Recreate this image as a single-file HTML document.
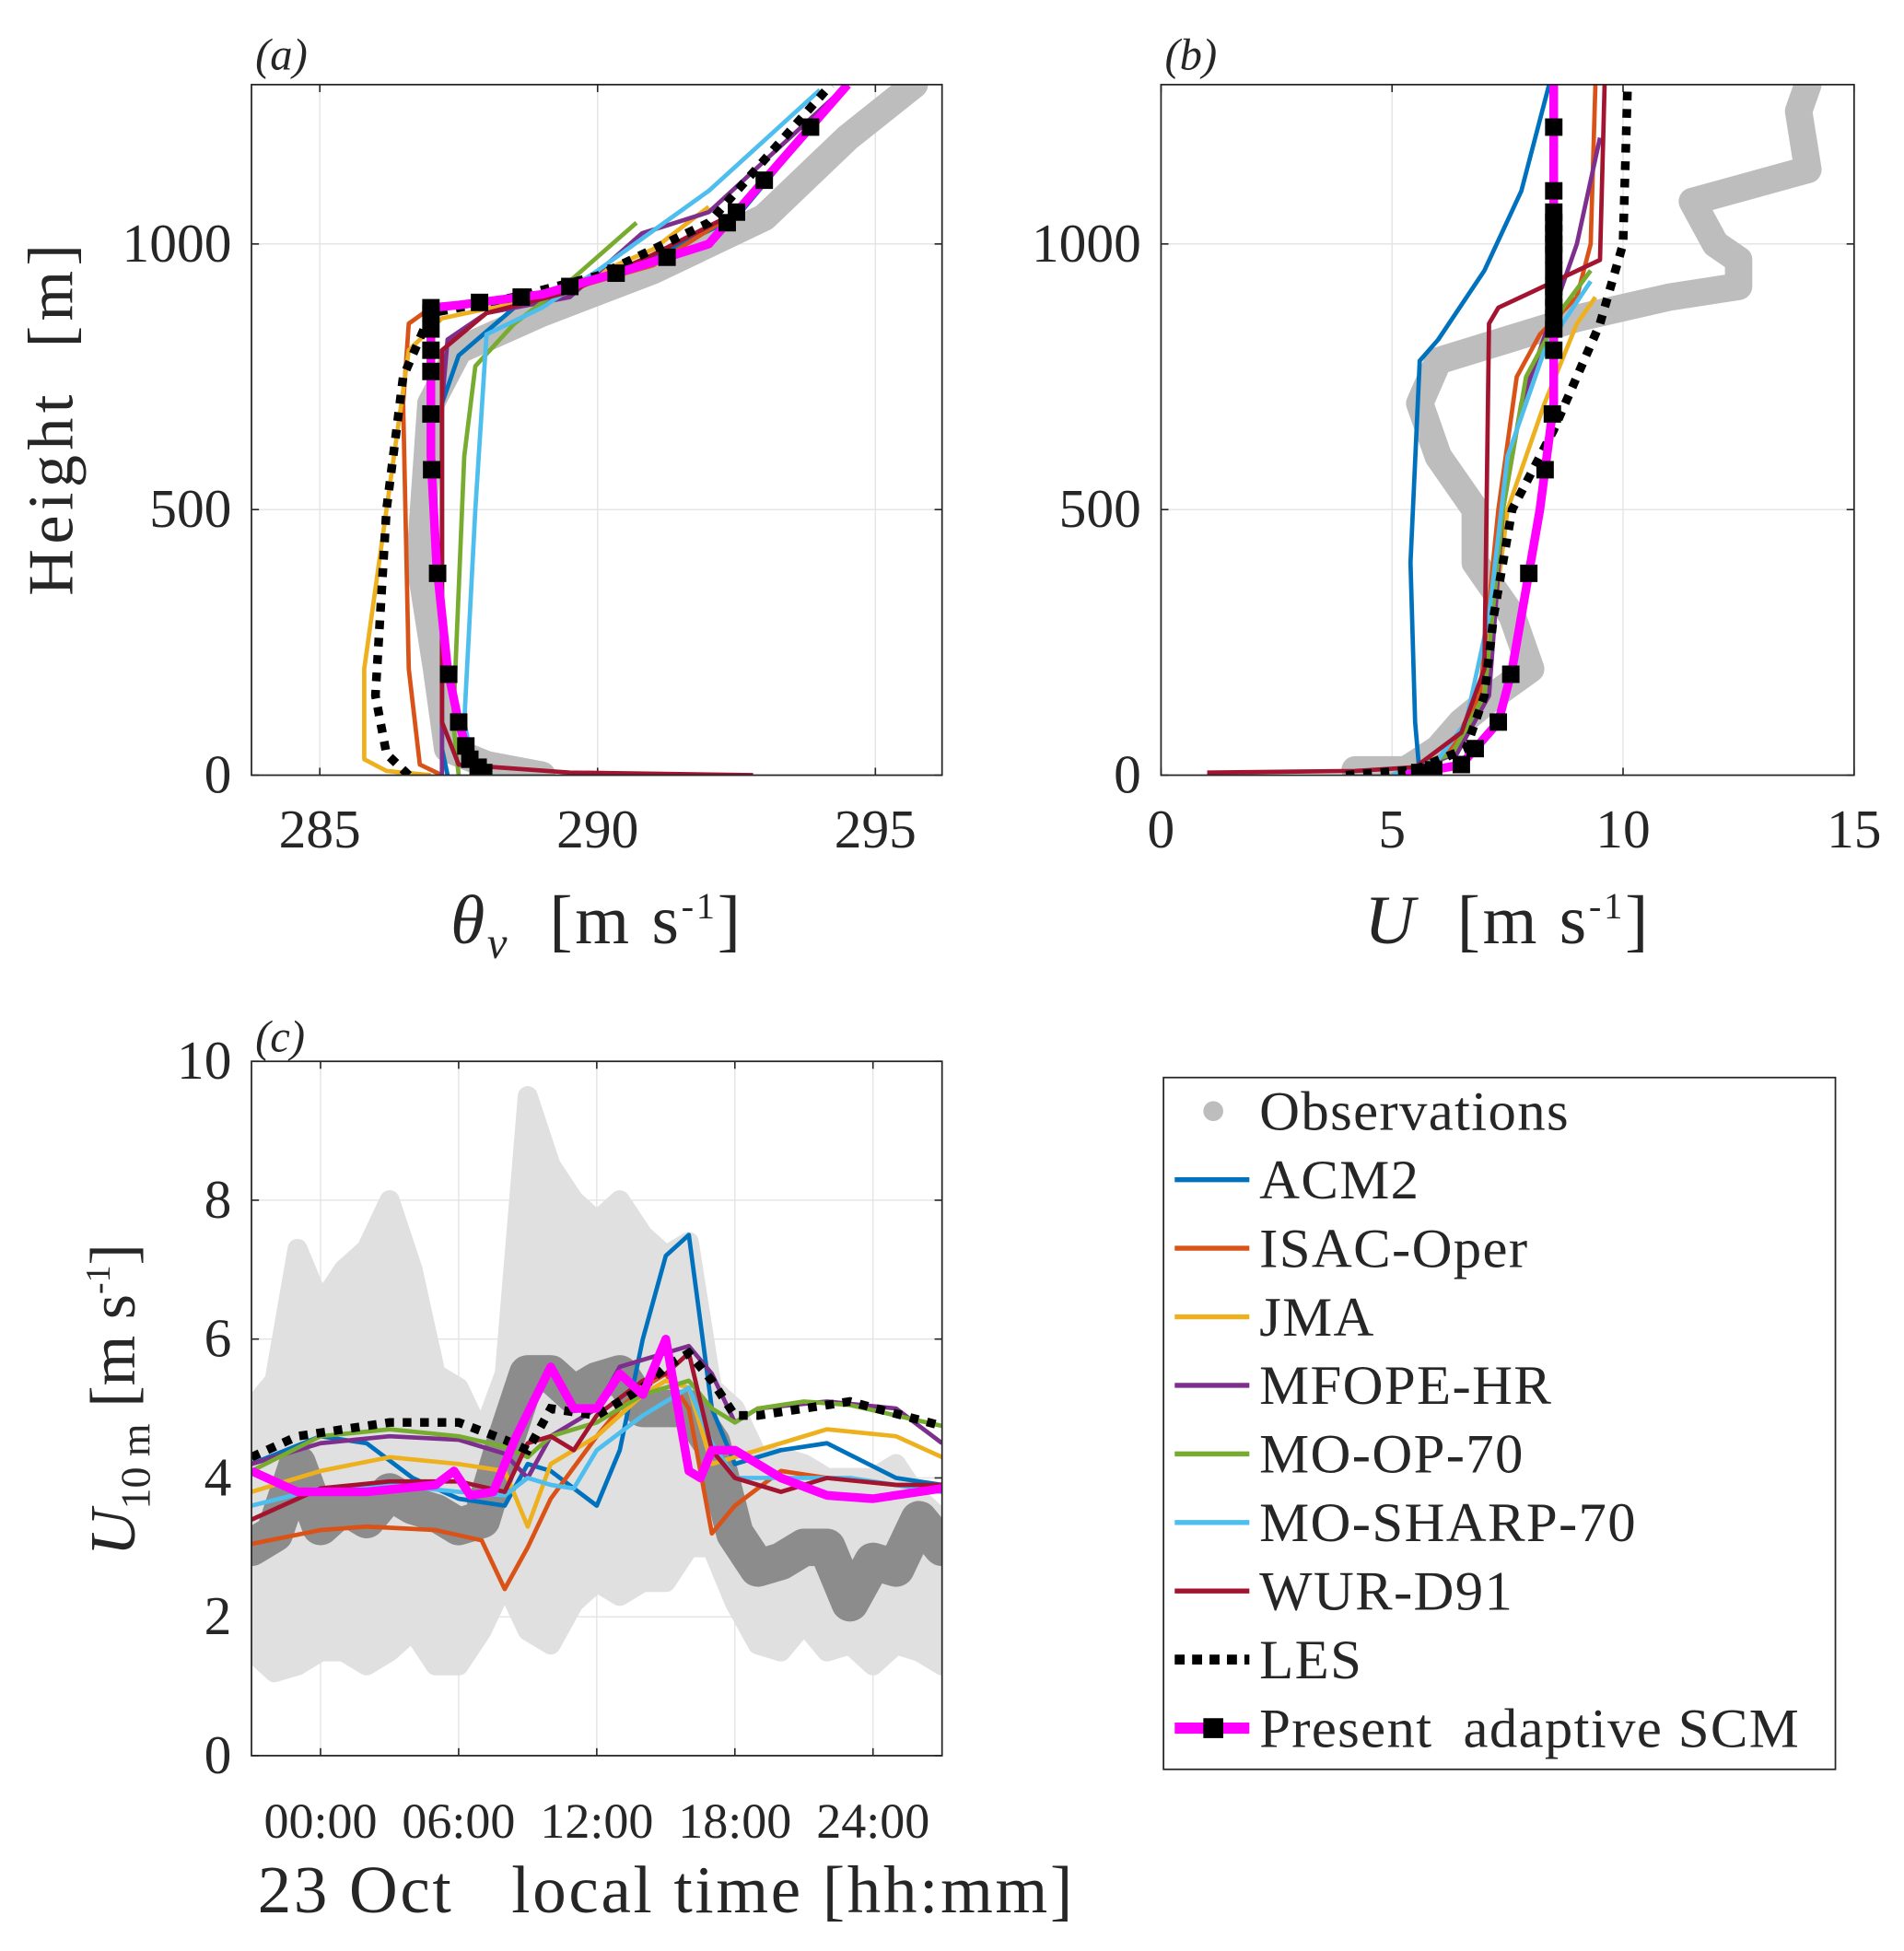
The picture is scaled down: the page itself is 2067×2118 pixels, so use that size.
<!DOCTYPE html>
<html><head><meta charset="utf-8"><style>
html,body{margin:0;padding:0;background:#fff;}
svg{display:block;}
text{font-family:"Liberation Serif","DejaVu Serif",serif;fill:#262626;white-space:pre;}
</style></head><body>
<svg id="fig" width="2067" height="2118" viewBox="0 0 1530 1568" xmlns="http://www.w3.org/2000/svg" xml:space="preserve"></svg>
<script>
// ---------- DATA ----------
const modelNames = ["ACM2","ISAC-Oper","JMA","MFOPE-HR","MO-OP-70","MO-SHARP-70","WUR-D91"];
const modelColors = ["#0072BD","#D95319","#EDB120","#7E2F8E","#77AC30","#4DBEEE","#A2142F"];
// Panel (a): theta_v profiles [theta, z]
const aObs = [[289,0],[288,20],[287.3,50],[287.1,200],[286.8,400],[287,700],[287.5,800],[289,870],[291,950],[293,1050],[294.5,1200],[295.7,1300]];
const aModels = [
 [[287.3,0],[287.2,50],[287.2,700],[287.5,790],[288.5,880],[290.5,950],[292.5,1050],[294.5,1300]],
 [[287.2,0],[286.8,20],[286.6,200],[286.5,700],[286.6,850],[287,880],[289,900],[291,960],[292.5,1060],[294.5,1300]],
 [[287,0],[286.2,8],[285.8,30],[285.8,200],[286.2,500],[286.6,800],[287.2,860],[289,900],[291,990],[292,1070]],
 [[287.2,0],[287.2,700],[287.3,820],[288,870],[289.5,900],[290.8,1020],[292,1060],[294.5,1300]],
 [[287.5,0],[287.4,100],[287.6,600],[287.8,770],[288.5,850],[289.5,930],[290.7,1040]],
 [[287.8,0],[287.6,100],[287.8,500],[288,830],[289,880],[290,950],[292,1100],[294,1290]],
 [[292.8,0],[289.5,5],[287.5,20],[287.2,100],[287.2,800],[288,870],[289.5,910],[291,980],[292.5,1060],[294.5,1300]]
];
const aLES = [[286.6,0],[286.2,40],[286,150],[286.2,500],[286.5,750],[287,870],[288.5,900],[290,940],[292,1040],[294.2,1300]];
const aSCM = [[288,0],[287.7,30],[287.5,100],[287.3,200],[287.1,400],[287,600],[287,880],[287.5,885],[289,905],[290.5,950],[292,1000],[293.5,1180],[294.5,1300]];
const aMarkZ = [5,15,30,55,100,190,380,575,680,760,800,840,870,880,890,900,920,945,975,1040,1060,1120,1220];
// Panel (b): U profiles [U, z]
const bObs = [[4.2,10],[5.3,10],[6,50],[6.5,100],[7.2,150],[8,200],[7.6,300],[6.8,400],[6.8,500],[6,600],[5.6,700],[6,780],[7.5,820],[9,860],[11,900],[12.5,920],[12.5,970],[12,1000],[11.5,1080],[14,1140],[13.8,1250],[14,1300]];
const bModels = [
 [[5.6,0],[5.5,100],[5.4,400],[5.6,780],[6,820],[7,950],[7.8,1100],[8.4,1300]],
 [[5,0],[6.2,40],[6.9,150],[7.3,500],[7.7,750],[8.2,830],[9,900],[9.3,1000],[9.4,1300]],
 [[5,0],[6.3,40],[7,150],[7.5,500],[8.3,700],[9,850],[9.4,900]],
 [[5,0],[6.4,40],[7.1,150],[7.4,500],[7.8,700],[8.4,850],[9,1000],[9.5,1200]],
 [[5,0],[6.3,40],[7,150],[7.4,500],[7.9,750],[8.7,880],[9.3,950]],
 [[5,0],[6,30],[6.6,100],[7.1,300],[7.5,600],[8.3,800],[9.3,930]],
 [[1,5],[4.2,8],[5.5,15],[6.5,80],[7,200],[7.1,850],[7.3,880],[9.5,970],[9.6,1300]]
];
const bLES = [[4,0],[5.5,10],[6.6,50],[7,150],[7.2,300],[7.6,500],[8.5,650],[9.5,850],[10,1000],[10.1,1300]];
const bSCM = [[5.3,0],[6.5,20],[7.3,100],[7.6,200],[8.2,500],[8.5,700],[8.5,1300]];
const bMarkZ = [5,10,20,50,100,190,380,575,680,800,840,860,880,900,920,950,980,1000,1020,1040,1060,1100,1220];
// Panel (c): time series (hours since 23 Oct 00:00), values m/s
const cHours = [-3,-2,-1,0,1,2,3,4,5,6,7,8,9,10,11,12,13,14,15,16,17,18,19,20,21,22,23,24,25,26,27];
const cObsHigh = [5.0,5.4,7.3,6.5,7.0,7.3,8.0,7.0,5.5,5.3,4.6,5.5,9.5,8.5,8.0,7.7,8.0,7.5,7.2,7.4,5.3,5.0,4.3,4.3,4.2,4.0,4.0,4.0,4.2,3.7,3.4];
const cObsLow  = [1.5,1.2,1.3,1.5,1.5,1.3,1.5,1.8,1.3,1.3,1.8,2.5,1.8,1.6,2.2,2.5,2.3,2.5,2.5,3.0,3.0,2.2,1.6,1.5,1.9,1.5,1.6,1.3,1.6,1.5,1.3];
const cObsDark = [3.0,3.2,4.2,3.3,3.6,3.4,3.8,3.6,3.5,3.3,3.4,4.5,5.5,5.5,5.2,5.4,5.5,5.0,5.0,5.0,4.5,3.2,2.7,2.8,3.0,3.0,2.2,2.8,2.7,3.4,3.0];
const cModels = [
 [[-3,4.2],[0,4.6],[2,4.5],[4,4.0],[6,3.7],[8,3.6],[9,4.2],[10,4.1],[12,3.6],[13,4.4],[14,6.0],[15,7.2],[16,7.5],[17,5.0],[18,4.2],[20,4.4],[22,4.5],[25,4.0],[27,3.9]],
 [[-3,3.05],[0,3.25],[2,3.3],[5,3.25],[7,3.1],[8,2.4],[9,3.0],[10,3.7],[12,4.6],[13,5.0],[14,5.3],[15,5.5],[16,5.0],[17,3.2],[18,3.6],[20,4.1],[22,4.0],[25,3.9],[27,3.8]],
 [[-3,3.8],[0,4.1],[3,4.3],[6,4.2],[8,4.1],[9,3.3],[10,4.2],[12,4.6],[14,5.2],[15,5.4],[16,5.3],[17,4.2],[19,4.4],[22,4.7],[25,4.6],[27,4.3]],
 [[-3,4.2],[0,4.5],[3,4.6],[6,4.55],[8,4.35],[9,4.0],[10,4.6],[12,5.0],[13,5.6],[14,5.7],[16,5.9],[17,5.5],[18,4.8],[19,5.0],[22,5.1],[25,5.0],[27,4.5]],
 [[-3,4.1],[0,4.6],[3,4.7],[6,4.6],[8,4.45],[9,4.3],[10,4.6],[12,4.8],[14,5.2],[16,5.4],[17,5.0],[18,4.8],[19,5.0],[21,5.1],[23,5.05],[27,4.75]],
 [[-3,3.6],[0,3.85],[3,3.9],[6,3.8],[8,3.75],[9,4.0],[10,3.9],[11,3.85],[12,4.4],[14,4.9],[16,5.3],[17,4.5],[18,4.0],[20,4.0],[23,4.0],[27,3.8]],
 [[-3,3.4],[0,3.85],[3,3.95],[6,3.95],[8,3.8],[9,4.5],[10,4.6],[11,4.4],[12,4.9],[14,5.4],[15,5.5],[16,5.8],[17,4.4],[18,4.0],[20,3.8],[22,4.0],[25,3.9],[27,3.9]]
];
const cLES = [[-3,4.3],[-1,4.6],[1,4.7],[3,4.8],[6,4.8],[8,4.55],[9,4.4],[10,5.0],[12,4.9],[14,5.3],[15,5.6],[16,5.8],[17,5.4],[18,4.9],[19,4.9],[21,5.0],[23,5.1],[27,4.75]];
const cSCM = [[-3,4.1],[-1,3.8],[2,3.8],[5,3.9],[5.8,4.1],[6.5,3.75],[7.5,3.8],[8.5,4.6],[10,5.6],[11,5.0],[12,5.0],[13,5.5],[14,5.2],[15,6.0],[16,4.1],[16.5,4.0],[17,4.4],[18,4.4],[19,4.2],[20,4.0],[22,3.75],[24,3.7],[27,3.85]];
const aXTicks = [285,290,295], bXTicks = [0,5,10,15], zTicks = [0,500,1000];
const cYTicks = [0,2,4,6,8,10], cXTicks = [0,6,12,18,24];
const cXTickLabels = ["00:00","06:00","12:00","18:00","24:00"];

// ---------- DRAW ----------
const NS="http://www.w3.org/2000/svg", svg=document.getElementById('fig');
function el(tag,attrs,parent){const e=document.createElementNS(NS,tag);for(const k in attrs)e.setAttribute(k,attrs[k]);(parent||svg).appendChild(e);return e;}
function lin(d0,d1,r0,r1){return v=>r0+(v-d0)*(r1-r0)/(d1-d0);}
function pathD(pts,sx,sy){return pts.map((p,i)=>(i?'L':'M')+sx(p[0]).toFixed(1)+','+sy(p[1]).toFixed(1)).join('');}
function interpX(prof,z){for(let i=0;i<prof.length-1;i++){const a=prof[i],b=prof[i+1];if(z>=a[1]&&z<=b[1]){if(b[1]===a[1])return a[0];return a[0]+(b[0]-a[0])*(z-a[1])/(b[1]-a[1]);}}return prof[prof.length-1][0];}

function axesFrame(g,L,T,R,B){el('rect',{x:L,y:T,width:R-L,height:B-T,fill:'none',stroke:'#262626','stroke-width':1.3},g);}
function clipFor(id,L,T,R,B){const cp=el('clipPath',{id:id});el('rect',{x:L,y:T,width:R-L,height:B-T},cp);}

function profilePanel(name,L,T,R,B,xmin,xmax,xTicks,obs,models,les,scm,markZ,label,xlabelHTML,showYLabel){
 const g=el('g',{});
 
 
 const sx=lin(xmin,xmax,L,R), sy=lin(0,1300,B,T);
 clipFor(name+'-clip',L,T,R,B);
 zTicks.forEach(z=>{const y=sy(z);const gl=el('line',{x1:L,x2:R,y1:y,y2:y,stroke:'#e3e3e3','stroke-width':1},g);
  el('line',{x1:L,x2:L+6,y1:y,y2:y,stroke:'#262626','stroke-width':1.2},g);el('line',{x1:R-6,x2:R,y1:y,y2:y,stroke:'#262626','stroke-width':1.2},g);
  const t=el('text',{x:L-16,y:y+14,'text-anchor':'end','font-size':44},g);t.textContent=z;});
 xTicks.forEach(v=>{const x=sx(v);const gl=el('line',{x1:x,x2:x,y1:T,y2:B,stroke:'#e3e3e3','stroke-width':1},g);
  el('line',{x1:x,x2:x,y1:B-6,y2:B,stroke:'#262626','stroke-width':1.2},g);el('line',{x1:x,x2:x,y1:T,y2:T+6,stroke:'#262626','stroke-width':1.2},g);
  const t=el('text',{x:x,y:B+58,'text-anchor':'middle','font-size':44},g);t.textContent=v;});
 const data=el('g',{'clip-path':'url(#'+name+'-clip)'},g);
 const o=el('path',{d:pathD(obs,sx,sy),fill:'none',stroke:'#bdbdbd','stroke-width':22,'stroke-linejoin':'round','stroke-linecap':'round'},data);
 
 models.forEach((m,i)=>{const p=el('path',{d:pathD(m,sx,sy),fill:'none',stroke:modelColors[i],'stroke-width':3.5,'stroke-linejoin':'round'},data);
  });
 const l=el('path',{d:pathD(les,sx,sy),fill:'none',stroke:'#000','stroke-width':7,'stroke-dasharray':'7 7'},data);
 
 const s=el('path',{d:pathD(scm,sx,sy),fill:'none',stroke:'#ff00ff','stroke-width':7,'stroke-linejoin':'round'},data);
 
 markZ.forEach(z=>{const x=sx(interpX(scm,z)),y=sy(z);const r=el('rect',{x:x-7,y:y-7,width:14,height:14,fill:'#000'},data);});
 axesFrame(g,L,T,R,B);
 const pl=el('text',{x:L+3,y:T-12,'font-size':36,'font-style':'italic'},g);pl.textContent=label;
 const xl=el('text',{x:(L+R)/2,y:B+135,'text-anchor':'middle','font-size':56,'letter-spacing':2},g);xl.innerHTML=xlabelHTML;
 if(showYLabel){const yl=el('text',{x:0,y:0,'text-anchor':'middle','font-size':52,'letter-spacing':4,transform:'translate(58,'+((T+B)/2-10)+') rotate(-90)'},g);yl.textContent='Height  [m]';}
}
profilePanel('panel-a-theta',202,68,757,623,283.77,296.2,aXTicks,aObs,aModels,aLES,aSCM,aMarkZ,'(a)','<tspan font-style="italic">θ</tspan><tspan font-style="italic" font-size="36" dy="12">v</tspan><tspan dy="-12">  [m s</tspan><tspan font-size="30" dy="-20">-1</tspan><tspan dy="20">]</tspan>',true);
profilePanel('panel-b-wind',933,68,1490,623,0,15,bXTicks,bObs,bModels,bLES,bSCM,bMarkZ,'(b)','<tspan font-style="italic">U</tspan><tspan>  [m s</tspan><tspan font-size="30" dy="-20">-1</tspan><tspan dy="20">]</tspan>',false);

// Panel c
(function(){
 const L=202,T=853,R=757,B=1411;
 const g=el('g',{});
 
 
 const sx=lin(-3,27,L,R), sy=lin(0,10,B,T);
 clipFor('c-clip',L,T,R,B);
 cYTicks.forEach(v=>{const y=sy(v);const gl=el('line',{x1:L,x2:R,y1:y,y2:y,stroke:'#e3e3e3','stroke-width':1},g);
  el('line',{x1:L,x2:L+6,y1:y,y2:y,stroke:'#262626','stroke-width':1.2},g);el('line',{x1:R-6,x2:R,y1:y,y2:y,stroke:'#262626','stroke-width':1.2},g);
  const t=el('text',{x:L-16,y:y+14,'text-anchor':'end','font-size':44},g);t.textContent=v;});
 cXTicks.forEach((v,i)=>{const x=sx(v);const gl=el('line',{x1:x,x2:x,y1:T,y2:B,stroke:'#e3e3e3','stroke-width':1},g);
  el('line',{x1:x,x2:x,y1:B-6,y2:B,stroke:'#262626','stroke-width':1.2},g);el('line',{x1:x,x2:x,y1:T,y2:T+6,stroke:'#262626','stroke-width':1.2},g);
  const t=el('text',{x:x,y:B+66,'text-anchor':'middle','font-size':40},g);t.textContent=cXTickLabels[i];});
 const data=el('g',{'clip-path':'url(#c-clip)'},g);
 const band=cHours.map((h,i)=>[h,cObsHigh[i]]).concat(cHours.map((h,i)=>[h,cObsLow[i]]).reverse());
 const bp=el('path',{d:pathD(band,sx,sy)+'Z',fill:'#e0e0e0',stroke:'#e0e0e0','stroke-width':16,'stroke-linejoin':'round'},data);
 
 const dk=el('path',{d:pathD(cHours.map((h,i)=>[h,cObsDark[i]]),sx,sy),fill:'none',stroke:'#8c8c8c','stroke-width':30,'stroke-linejoin':'round','stroke-linecap':'round'},data);
 
 cModels.forEach((m,i)=>{const p=el('path',{d:pathD(m,sx,sy),fill:'none',stroke:modelColors[i],'stroke-width':3.5,'stroke-linejoin':'round'},data);
  });
 const l=el('path',{d:pathD(cLES,sx,sy),fill:'none',stroke:'#000','stroke-width':7,'stroke-dasharray':'7 7'},data);
 
 const s=el('path',{d:pathD(cSCM,sx,sy),fill:'none',stroke:'#ff00ff','stroke-width':7,'stroke-linejoin':'round'},data);
 
 axesFrame(g,L,T,R,B);
 const pl=el('text',{x:L+3,y:T-8,'font-size':36,'font-style':'italic'},g);pl.textContent='(c)';
 const xl=el('text',{x:207,y:1537,'font-size':54,'letter-spacing':2},g);xl.textContent='23 Oct   local time [hh:mm]';
 const yl=el('text',{x:0,y:0,'text-anchor':'middle','font-size':52,transform:'translate(108,1125) rotate(-90)'},g);
 yl.innerHTML='<tspan font-style="italic">U</tspan><tspan font-size="34" dy="12">10 m</tspan><tspan dy="-12"> [m s</tspan><tspan font-size="28" dy="-20">-1</tspan><tspan dy="20">]</tspan>';
 
})();

// Legend
(function(){
 const g=el('g',{});
 
 
 el('rect',{x:935,y:866,width:540,height:556,fill:'#fff',stroke:'#262626','stroke-width':1.3},g);
 const labels=['Observations'].concat(modelNames,['LES','Present  adaptive SCM']);
 labels.forEach((lab,i)=>{const y=893+i*55.1;
  const e=el('g',{},g);
  
  
  if(i===0){el('circle',{cx:975,cy:y,r:8,fill:'#bdbdbd'},e);}
  else if(i<=7){el('line',{x1:944,x2:1004,y1:y,y2:y,stroke:modelColors[i-1],'stroke-width':4},e);}
  else if(i===8){el('line',{x1:944,x2:1004,y1:y,y2:y,stroke:'#000','stroke-width':8,'stroke-dasharray':'8 6'},e);}
  else {el('line',{x1:944,x2:1004,y1:y,y2:y,stroke:'#ff00ff','stroke-width':9},e);el('rect',{x:967,y:y-8,width:16,height:16,fill:'#000'},e);}
  const t=el('text',{x:1012,y:y+15,'font-size':45,'letter-spacing':1},e);t.textContent=lab;});
})();
</script>
</body></html>
